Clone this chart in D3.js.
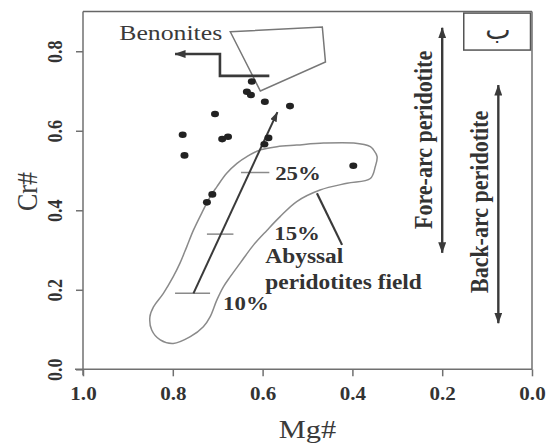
<!DOCTYPE html>
<html><head><meta charset="utf-8">
<script src="https://cdn.jsdelivr.net/npm/d3@7"></script>
<style>body{margin:0;background:#fff}svg{display:block}</style>
</head><body>
<svg id="c" width="557" height="443"></svg>
<script>
// ---------- data ----------
const xTicks = [1.0, 0.8, 0.6, 0.4, 0.2, 0.0];
const yTicks = [0.0, 0.2, 0.4, 0.6, 0.8];
const xTitle = "Mg#";
const yTitle = "Cr#";

// samples (Mg#, Cr#)
const sampleMg = [0.624, 0.635, 0.626, 0.595, 0.706, 0.778, 0.774, 0.690, 0.677, 0.539, 0.398, 0.596, 0.587, 0.724, 0.712];
const sampleCr = [0.724, 0.698, 0.690, 0.673, 0.642, 0.590, 0.538, 0.579, 0.585, 0.662, 0.512, 0.566, 0.582, 0.420, 0.440];

// abyssal peridotite field outline
const fieldMg = [0.353,0.345,0.349,0.360,0.412,0.472,0.524,0.561,0.590,0.620,0.650,0.672,0.687,0.702,0.717,0.732,0.761,0.799,0.828,0.847,0.851,0.843,0.821,0.799,0.784,0.769,0.754,0.732,0.717,0.702,0.680,0.657,0.635,0.605,0.568,0.524,0.464,0.397,0.360];
const fieldCr = [0.552,0.535,0.510,0.480,0.468,0.451,0.422,0.384,0.350,0.313,0.267,0.233,0.208,0.174,0.132,0.107,0.082,0.065,0.074,0.099,0.132,0.157,0.191,0.233,0.267,0.308,0.350,0.401,0.434,0.459,0.493,0.518,0.535,0.552,0.560,0.564,0.569,0.569,0.560];

// boninite field
const boniniteMg = [0.672, 0.467, 0.460, 0.605];
const boniniteCr = [0.849, 0.861, 0.773, 0.700];
const boniniteArrowMg = [0.585, 0.695, 0.695, 0.795];
const boniniteArrowCr = [0.738, 0.738, 0.793, 0.793];

// melting trend
const meltTrendMg = [0.754, 0.567];
const meltTrendCr = [0.191, 0.647];
const meltLabels = ["10%", "15%", "25%"];
const meltCr = [0.191, 0.340, 0.495];
const meltTickMg0 = [0.795, 0.724, 0.648];
const meltTickMg1 = [0.717, 0.665, 0.585];

// tectonic ranges
const rangeNames = ["Fore-arc peridotite", "Back-arc peridotite"];
const rangeMg = [0.2, 0.075];
const rangeCrMin = [0.293, 0.116];
const rangeCrMax = [0.859, 0.715];

const panelLabel = "ب";

// ---------- layout ----------
const svg = d3.select("#c");
const L = 83, R = 532, T = 11.5, B = 369.3;
const SX = 1.17; // horizontal stretch of the original picture
const x = d3.scaleLinear().domain([1, 0]).range([L, R]);
const y = d3.scaleLinear().domain([0, 0.9]).range([B, T]);
const dark = "#333", axisCol = "#707070", gray = "#8a8a8a";
const serif = "'Liberation Serif','Times New Roman',serif";

function stext(g, txt, px, py, size, weight, anchor, rot, fill) {
  return g.append("text")
    .attr("transform", `translate(${px},${py}) scale(${SX},1)` + (rot ? " rotate(-90)" : ""))
    .attr("text-anchor", anchor)
    .attr("font-family", serif)
    .attr("font-size", size)
    .attr("font-weight", weight)
    .attr("fill", fill || dark)
    .text(txt);
}

// markers
const defs = svg.append("defs");
function marker(id, len, w, col) {
  defs.append("marker").attr("id", id)
    .attr("viewBox", `0 ${-w/2} ${len} ${w}`)
    .attr("refX", len - 0.5).attr("refY", 0)
    .attr("markerUnits", "userSpaceOnUse")
    .attr("markerWidth", len).attr("markerHeight", w)
    .attr("orient", "auto-start-reverse")
    .append("path").attr("d", `M0,${-w/2}L${len},0L0,${w/2}Z`).attr("fill", col);
}
marker("ah", 11, 8, "#3a3a3a");
marker("ahs", 10, 7, "#3a3a3a");

// ---------- axes ----------
const gx = svg.append("g").attr("transform", `translate(0,${B})`)
  .call(d3.axisBottom(x).tickValues(xTicks).tickSize(7).tickSizeOuter(0).tickFormat(d3.format(".1f")));
const gy = svg.append("g").attr("transform", `translate(${L},0)`)
  .call(d3.axisLeft(y).tickValues(yTicks).tickSize(7).tickSizeOuter(0).tickFormat(d3.format(".1f")));
[gx, gy].forEach(g => {
  g.select(".domain").remove();
  g.selectAll(".tick line").attr("stroke", axisCol).attr("stroke-width", 1.5);
  g.selectAll(".tick text").remove();
});
gx.selectAll(".tick").each(function(d) {
  stext(d3.select(this), d3.format(".1f")(d), 0, 31, 18, "bold", "middle", false);
});
gy.selectAll(".tick").each(function(d) {
  stext(d3.select(this), d3.format(".1f")(d), -21.5, 0, 18, "bold", "middle", true);
});

// frame
const frame = svg.append("g").attr("stroke", axisCol).attr("stroke-width", 1.5).attr("fill", "none");
frame.append("line").attr("x1", L - 8).attr("x2", R).attr("y1", B).attr("y2", B);
frame.append("line").attr("x1", L).attr("x2", L).attr("y1", T).attr("y2", B + 6);
frame.append("line").attr("x1", L).attr("x2", R).attr("y1", T).attr("y2", T).attr("stroke", "#666");
frame.append("line").attr("x1", R).attr("x2", R).attr("y1", T).attr("y2", B);

// axis titles
stext(svg, xTitle, (L + R) / 2, 438, 26, "normal", "middle", false, "#3a3a3a");
stext(svg, yTitle, 37, 191.5, 26, "normal", "middle", true, "#3a3a3a");

// ---------- abyssal field ----------
const fieldPts = fieldMg.map((m, i) => [x(m), y(fieldCr[i])]);
svg.append("path").attr("d", d3.line().curve(d3.curveCatmullRomClosed.alpha(0.5))(fieldPts))
  .attr("fill", "none").attr("stroke", gray).attr("stroke-width", 1.5);

// ---------- boninite field ----------
const bonPts = boniniteMg.map((m, i) => [x(m), y(boniniteCr[i])]);
svg.append("path").attr("d", d3.line().curve(d3.curveLinearClosed)(bonPts))
  .attr("fill", "none").attr("stroke", "#777").attr("stroke-width", 1.5);
svg.append("path")
  .attr("d", d3.line()(boniniteArrowMg.map((m, i) => [x(m), y(boniniteArrowCr[i])])))
  .attr("fill", "none").attr("stroke", "#3a3a3a").attr("stroke-width", 2.6)
  .attr("marker-end", "url(#ah)");
stext(svg, "Benonites", x(0.690), y(0.828), 22, "normal", "end", false, "#3a3a3a");

// ---------- melting trend ----------
svg.append("g").selectAll("line").data(meltCr).join("line")
  .attr("x1", (d, i) => x(meltTickMg0[i])).attr("x2", (d, i) => x(meltTickMg1[i]))
  .attr("y1", d => y(d)).attr("y2", d => y(d))
  .attr("stroke", gray).attr("stroke-width", 1.5);
svg.append("line")
  .attr("x1", x(meltTrendMg[0])).attr("y1", y(meltTrendCr[0]))
  .attr("x2", x(meltTrendMg[1])).attr("y2", y(meltTrendCr[1]))
  .attr("stroke", "#3a3a3a").attr("stroke-width", 2).attr("marker-end", "url(#ahs)");
const meltLabMg = [0.688, 0.574, 0.572];
const meltLabCr = [0.149, 0.325, 0.477];
meltLabels.forEach((t, i) => stext(svg, t, x(meltLabMg[i]), y(meltLabCr[i]), 19.5, "bold", "start", false));

// abyssal label + pointer
svg.append("line").attr("x1", x(0.479)).attr("y1", y(0.443)).attr("x2", x(0.423)).attr("y2", y(0.313))
  .attr("stroke", "#3a3a3a").attr("stroke-width", 2.2);
stext(svg, "Abyssal", x(0.594), y(0.267), 20, "bold", "start", false);
stext(svg, "peridotites field", x(0.594), y(0.201), 20, "bold", "start", false);

// ---------- samples ----------
svg.append("g").selectAll("ellipse").data(sampleMg).join("ellipse")
  .attr("cx", d => x(d)).attr("cy", (d, i) => y(sampleCr[i]))
  .attr("rx", 4).attr("ry", 3.3).attr("fill", "#222");

// ---------- tectonic ranges ----------
rangeNames.forEach((n, i) => {
  svg.append("line")
    .attr("x1", x(rangeMg[i])).attr("x2", x(rangeMg[i]))
    .attr("y1", y(rangeCrMin[i])).attr("y2", y(rangeCrMax[i]))
    .attr("stroke", "#3a3a3a").attr("stroke-width", 2.4)
    .attr("marker-start", "url(#ah)").attr("marker-end", "url(#ah)");
});
stext(svg, rangeNames[0], x(0.222), y(0.577), 22, "bold", "middle", true);
stext(svg, rangeNames[1], x(0.099), y(0.421), 22, "bold", "middle", true);

// ---------- panel label ----------
svg.append("rect").attr("x", x(0.152)).attr("y", y(0.896))
  .attr("width", R - 1.5 - x(0.152)).attr("height", y(0.803) - y(0.896))
  .attr("fill", "#fff").attr("stroke", "#555").attr("stroke-width", 1.5);
svg.append("text").attr("x", (x(0.152) + R) / 2).attr("y", y(0.832))
  .attr("text-anchor", "middle").attr("font-family", "'DejaVu Sans',sans-serif")
  .attr("font-size", 27).attr("fill", dark).text(panelLabel);
</script>
</body></html>
